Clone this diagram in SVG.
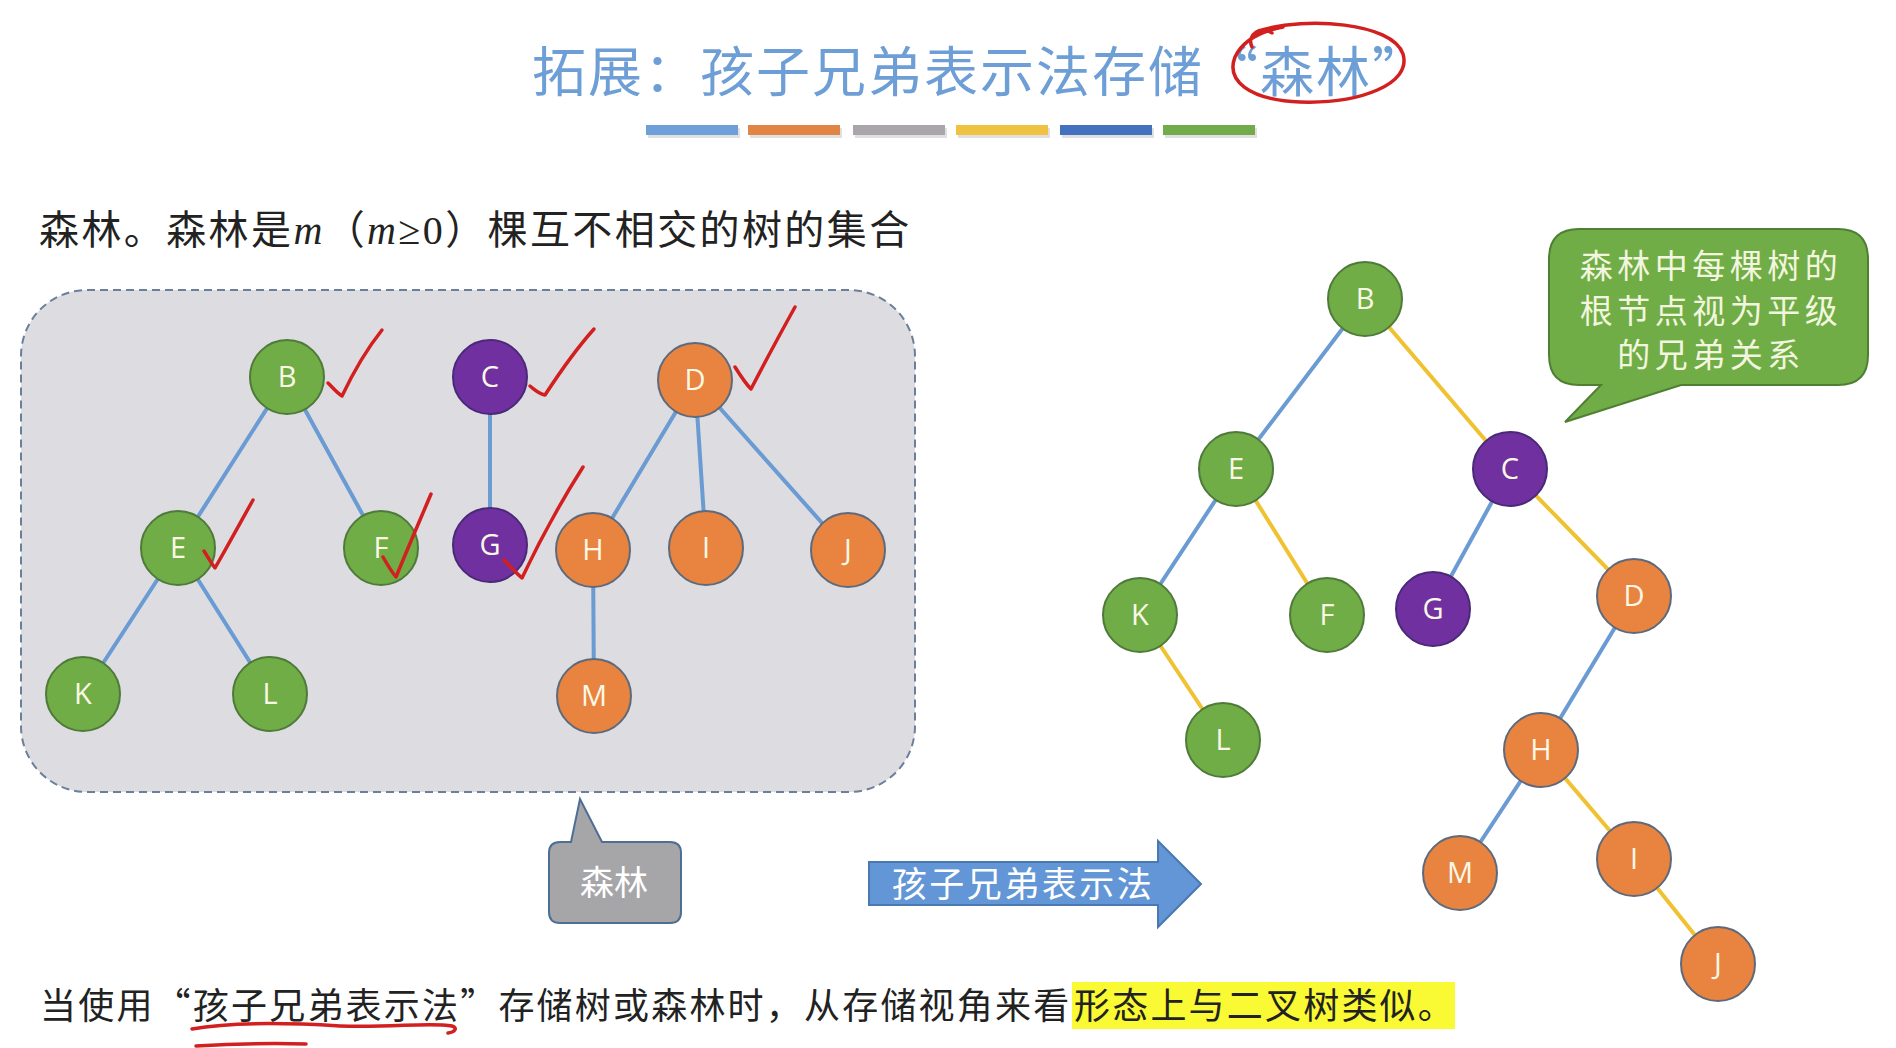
<svg xmlns="http://www.w3.org/2000/svg" width="1896" height="1048" viewBox="0 0 1896 1048">
<style>
.cjk{font-family:'Noto Sans CJK SC',sans-serif;}
.ser{font-family:'Liberation Serif','Noto Sans CJK SC',serif;}
.ng circle{stroke-width:2;}
.green circle{fill:#70ad47;stroke:#4f7a3a;}
.purple circle{fill:#7030a0;stroke:#4a2a78;}
.orange circle{fill:#e8843f;stroke:#5e6a7c;}
.ng text{font-family:'Open Sans',Lato,sans-serif;font-size:29px;fill:#fbf8e6;text-anchor:middle;}
.eb{stroke:#6a9bd3;stroke-width:4;stroke-linecap:round;}
.ey{stroke:#f0c232;stroke-width:4;stroke-linecap:round;}
.red{fill:none;stroke:#d21f1f;stroke-width:3.5;stroke-linecap:round;stroke-linejoin:round;}
</style>
<rect width="1896" height="1048" fill="#ffffff"/>

<!-- title -->
<text class="cjk" x="980" y="92" font-size="54" fill="#6e9ed6" text-anchor="middle" letter-spacing="2">拓展：孩子兄弟表示法存储“森林”</text>
<path class="red" d="M1252,47 C1246,34 1262,25 1272,33 M1262,30 C1305,17 1392,22 1403,54 C1412,84 1360,104 1300,102 C1248,100 1226,80 1235,57 C1243,40 1262,31 1283,27"/>

<!-- colour bars -->
<g>
<rect x="648" y="128" width="92" height="10" fill="#000" opacity="0.12"/>
<rect x="750" y="128" width="92" height="10" fill="#000" opacity="0.12"/>
<rect x="855" y="128" width="92" height="10" fill="#000" opacity="0.12"/>
<rect x="958" y="128" width="92" height="10" fill="#000" opacity="0.12"/>
<rect x="1062" y="128" width="92" height="10" fill="#000" opacity="0.12"/>
<rect x="1165" y="128" width="92" height="10" fill="#000" opacity="0.12"/>
<rect x="646" y="125" width="92" height="10" fill="#6e9fd8"/>
<rect x="748" y="125" width="92" height="10" fill="#e08543"/>
<rect x="853" y="125" width="92" height="10" fill="#a9a5aa"/>
<rect x="956" y="125" width="92" height="10" fill="#efc240"/>
<rect x="1060" y="125" width="92" height="10" fill="#4470c0"/>
<rect x="1163" y="125" width="92" height="10" fill="#71ab4a"/>
</g>

<!-- subtitle -->
<text class="ser" x="39" y="244" font-size="40" fill="#222" letter-spacing="2.4">森林。森林是<tspan font-style="italic">m</tspan>（<tspan font-style="italic">m</tspan>≥0）棵互不相交的树的集合</text>

<!-- forest box -->
<rect id="forest-box" x="21" y="290" width="894" height="502" rx="66" ry="66" fill="#dddce1" stroke="#6a7f9a" stroke-width="2" stroke-dasharray="8 5"/>

<g id="connectors">
<line class="eb" x1="287" y1="377" x2="178" y2="548"/>
<line class="eb" x1="287" y1="377" x2="381" y2="548"/>
<line class="eb" x1="178" y1="548" x2="83" y2="694"/>
<line class="eb" x1="178" y1="548" x2="270" y2="694"/>
<line class="eb" x1="490" y1="377" x2="490" y2="545"/>
<line class="eb" x1="695" y1="380" x2="593" y2="550"/>
<line class="eb" x1="695" y1="380" x2="706" y2="548"/>
<line class="eb" x1="695" y1="380" x2="846" y2="550"/>
<line class="eb" x1="593" y1="550" x2="594" y2="696"/>

<line class="eb" x1="1365" y1="299" x2="1236" y2="469"/>
<line class="ey" x1="1365" y1="299" x2="1510" y2="469"/>
<line class="eb" x1="1236" y1="469" x2="1140" y2="615"/>
<line class="ey" x1="1236" y1="469" x2="1327" y2="615"/>
<line class="ey" x1="1140" y1="615" x2="1223" y2="740"/>
<line class="eb" x1="1510" y1="469" x2="1433" y2="609"/>
<line class="ey" x1="1510" y1="469" x2="1634" y2="596"/>
<line class="eb" x1="1634" y1="596" x2="1541" y2="750"/>
<line class="eb" x1="1541" y1="750" x2="1460" y2="873"/>
<line class="ey" x1="1541" y1="750" x2="1634" y2="859"/>
<line class="ey" x1="1634" y1="859" x2="1718" y2="964"/>
</g>

<!-- left forest nodes -->
<g id="L-B" class="ng green"><circle cx="287" cy="377" r="37"/><text x="287" y="387">B</text></g>
<g id="L-C" class="ng purple"><circle cx="490" cy="377" r="37"/><text x="490" y="387">C</text></g>
<g id="L-D" class="ng orange"><circle cx="695" cy="380" r="37"/><text x="695" y="390">D</text></g>
<g id="L-E" class="ng green"><circle cx="178" cy="548" r="37"/><text x="178" y="558">E</text></g>
<g id="L-F" class="ng green"><circle cx="381" cy="548" r="37"/><text x="381" y="558">F</text></g>
<g id="L-G" class="ng purple"><circle cx="490" cy="545" r="37"/><text x="490" y="555">G</text></g>
<g id="L-H" class="ng orange"><circle cx="593" cy="550" r="37"/><text x="593" y="560">H</text></g>
<g id="L-I" class="ng orange"><circle cx="706" cy="548" r="37"/><text x="706" y="558">I</text></g>
<g id="L-J" class="ng orange"><circle cx="848" cy="550" r="37"/><text x="848" y="560">J</text></g>
<g id="L-K" class="ng green"><circle cx="83" cy="694" r="37"/><text x="83" y="704">K</text></g>
<g id="L-L" class="ng green"><circle cx="270" cy="694" r="37"/><text x="270" y="704">L</text></g>
<g id="L-M" class="ng orange"><circle cx="594" cy="696" r="37"/><text x="594" y="706">M</text></g>

<!-- check marks -->
<g id="checks">
<path class="red" d="M328,383 C333,388 337,393 342,396 C352,375 366,350 382,330"/>
<path class="red" d="M530,386 C535,390 539,394 545,395 C560,372 577,348 594,329"/>
<path class="red" d="M735,367 C740,375 745,383 751,389 C764,364 780,334 795,307"/>
<path class="red" d="M204,551 C208,557 211,563 215,568 C228,545 242,520 253,500"/>
<path class="red" d="M383,557 C387,564 391,571 396,577 C407,550 420,520 431,494"/>
<path class="red" d="M504,560 C510,566 516,573 522,578 C540,540 562,500 583,467"/>
</g>

<!-- forest callout -->
<g id="callout-forest">
<path d="M560,842 L571,842 L580,799 L602,842 L670,842 Q681,842 681,853 L681,912 Q681,923 670,923 L560,923 Q549,923 549,912 L549,853 Q549,842 560,842 Z" fill="#a6a6a9" stroke="#4e6e94" stroke-width="2"/>
<text class="cjk" x="614" y="895" font-size="34" fill="#ffffff" text-anchor="middle">森林</text>
</g>

<!-- arrow -->
<g id="arrow-label">
<path d="M869,862 L1158,862 L1158,841 L1201,884 L1158,927 L1158,905 L869,905 Z" fill="#6396d6" stroke="#4a78b0" stroke-width="2"/>
<text class="cjk" x="1023" y="897" font-size="35" fill="#ffffff" text-anchor="middle" letter-spacing="2.5">孩子兄弟表示法</text>
</g>

<!-- right binary tree nodes -->
<g id="R-B" class="ng green"><circle cx="1365" cy="299" r="37"/><text x="1365" y="309">B</text></g>
<g id="R-E" class="ng green"><circle cx="1236" cy="469" r="37"/><text x="1236" y="479">E</text></g>
<g id="R-C" class="ng purple"><circle cx="1510" cy="469" r="37"/><text x="1510" y="479">C</text></g>
<g id="R-K" class="ng green"><circle cx="1140" cy="615" r="37"/><text x="1140" y="625">K</text></g>
<g id="R-F" class="ng green"><circle cx="1327" cy="615" r="37"/><text x="1327" y="625">F</text></g>
<g id="R-G" class="ng purple"><circle cx="1433" cy="609" r="37"/><text x="1433" y="619">G</text></g>
<g id="R-D" class="ng orange"><circle cx="1634" cy="596" r="37"/><text x="1634" y="606">D</text></g>
<g id="R-L" class="ng green"><circle cx="1223" cy="740" r="37"/><text x="1223" y="750">L</text></g>
<g id="R-H" class="ng orange"><circle cx="1541" cy="750" r="37"/><text x="1541" y="760">H</text></g>
<g id="R-M" class="ng orange"><circle cx="1460" cy="873" r="37"/><text x="1460" y="883">M</text></g>
<g id="R-I" class="ng orange"><circle cx="1634" cy="859" r="37"/><text x="1634" y="869">I</text></g>
<g id="R-J" class="ng orange"><circle cx="1718" cy="964" r="37"/><text x="1718" y="974">J</text></g>

<!-- green callout -->
<g id="callout-roots">
<path d="M1579,229 L1838,229 Q1868,229 1868,259 L1868,355 Q1868,385 1838,385 L1681,385 L1565,422 L1601,385 L1579,385 Q1549,385 1549,355 L1549,259 Q1549,229 1579,229 Z" fill="#70ad47" stroke="#4f7f33" stroke-width="2"/>
<text class="cjk" font-size="33" fill="#f3f6df" text-anchor="middle" letter-spacing="4.5"><tspan x="1711" y="278">森林中每棵树的</tspan><tspan x="1711" y="323">根节点视为平级</tspan><tspan x="1711" y="367">的兄弟关系</tspan></text>
</g>

<!-- bottom sentence -->
<rect x="1072" y="982" width="383" height="47" fill="#f9f934"/>
<text class="cjk" x="40" y="1019" font-size="36" fill="#222" letter-spacing="2.2">当使用“孩子兄弟表示法”存储树或森林时，从存储视角来看<tspan x="1074">形态上与二叉树类似。</tspan></text>
<path class="red" d="M192,1029 C230,1022 290,1023 340,1026 C390,1028 430,1022 452,1026 C458,1028 455,1032 448,1033"/>
<path class="red" d="M196,1046 C230,1044 270,1043 306,1044"/>
</svg>
